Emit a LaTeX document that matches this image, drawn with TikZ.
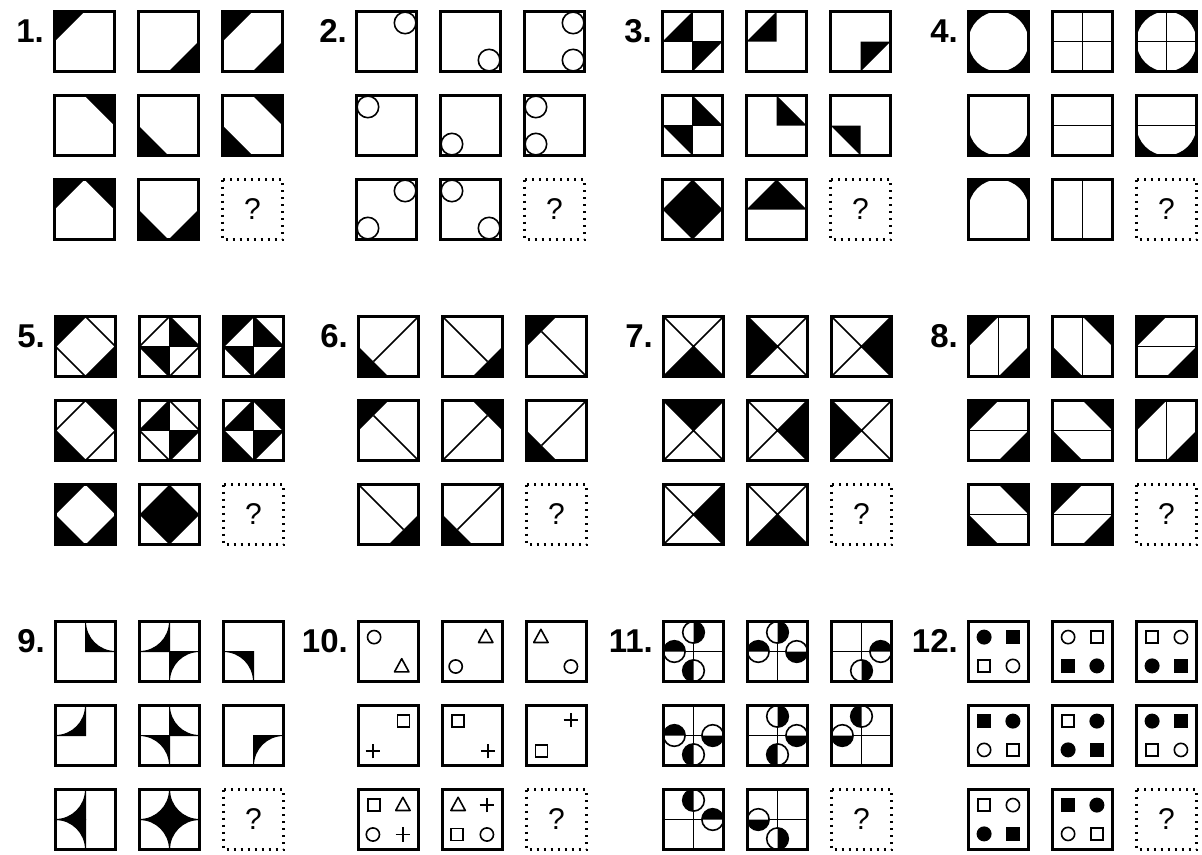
\documentclass[tikz,border=0pt]{standalone}
\usepackage{fontspec}
\setmainfont{Liberation Sans}
\tikzset{
  boxline/.style={line width=2.6pt},
  inln/.style={line width=1.6pt},
  dotbox/.style={line width=2.2pt, dash pattern=on 2pt off 5pt},
  lab/.style={font=\fontsize{33}{33}\selectfont\bfseries, anchor=base east, inner sep=0pt},
  qm/.style={font=\fontsize{30}{30}\selectfont, inner sep=0pt},
}
% box: top-left corner in px
\newcommand\Bx[3]{\begin{scope}[shift={({#1pt+1.5pt},{-#2pt-61.5pt})},x=60pt,y=60pt]#3\draw[boxline] (0,0) rectangle (1,1);\end{scope}}
\newcommand\Qb[3]{\draw[dotbox] ({#1pt+1.5pt},{-#2pt-1.5pt}) rectangle ({#1pt+61.5pt},{-#2pt-61.5pt});
  \node[qm] (#3) at ({#1pt+31.5pt},{-#2pt-31.5pt}) {?};}
% corner / inner triangles
\newcommand\oTL{\fill (0,1)--(0.5,1)--(0,0.5)--cycle;}
\newcommand\oTR{\fill (1,1)--(0.5,1)--(1,0.5)--cycle;}
\newcommand\oBL{\fill (0,0)--(0.5,0)--(0,0.5)--cycle;}
\newcommand\oBR{\fill (1,0)--(0.5,0)--(1,0.5)--cycle;}
\newcommand\iTL{\fill (0.5,0.5)--(0,0.5)--(0.5,1)--cycle;}
\newcommand\iTR{\fill (0.5,0.5)--(0.5,1)--(1,0.5)--cycle;}
\newcommand\iBL{\fill (0.5,0.5)--(0,0.5)--(0.5,0)--cycle;}
\newcommand\iBR{\fill (0.5,0.5)--(1,0.5)--(0.5,0)--cycle;}
\newcommand\iAll{\fill (0.5,1)--(1,0.5)--(0.5,0)--(0,0.5)--cycle;}
\newcommand\iTop{\fill (0,0.5)--(0.5,1)--(1,0.5)--cycle;}
% lines
\newcommand\Lv{\draw[inln] (0.5,0)--(0.5,1);}
\newcommand\Lh{\draw[inln] (0,0.5)--(1,0.5);}
\newcommand\Ldm{\draw[inln] (0.5,1)--(1,0.5)--(0.5,0)--(0,0.5)--cycle;}
\newcommand\Lx{\draw[inln] (0,0)--(1,1) (0,1)--(1,0);}
% puzzle 2
\newcommand\Ci[2]{\draw[inln,fill=white] (#1,#2) circle (0.18);}
% puzzle 4: black corners outside an inscribed circle
\newcommand\kTL{\fill (0,0.5) arc[start angle=180,end angle=90,radius=0.5]--(0,1)--cycle;}
\newcommand\kTR{\fill (1,0.5) arc[start angle=0,end angle=90,radius=0.5]--(1,1)--cycle;}
\newcommand\kBL{\fill (0,0.5) arc[start angle=180,end angle=270,radius=0.5]--(0,0)--cycle;}
\newcommand\kBR{\fill (1,0.5) arc[start angle=0,end angle=-90,radius=0.5]--(1,0)--cycle;}
\newcommand\Cfull{\kTL\kTR\kBL\kBR}
\newcommand\Cbot{\kBL\kBR}
\newcommand\Ctop{\kTL\kTR}
% puzzle 6
\newcommand\sixA{\oBL\draw[inln] (1,1)--(0.25,0.25);}
\newcommand\sixB{\oBR\draw[inln] (0,1)--(0.75,0.25);}
\newcommand\sixC{\oTL\draw[inln] (1,0)--(0.25,0.75);}
\newcommand\sixD{\oTR\draw[inln] (0,0)--(0.75,0.75);}
% puzzle 7
\newcommand\qB{\fill (0,0)--(1,0)--(0.5,0.5)--cycle;}
\newcommand\qT{\fill (0,1)--(1,1)--(0.5,0.5)--cycle;}
\newcommand\qL{\fill (0,0)--(0,1)--(0.5,0.5)--cycle;}
\newcommand\qR{\fill (1,0)--(1,1)--(0.5,0.5)--cycle;}
% puzzle 9
\newcommand\sTR{\fill[draw=black,line width=1pt] (0.5,0.5)--(0.5,1) arc[start angle=180,end angle=270,radius=0.5]--cycle;}
\newcommand\sTL{\fill[draw=black,line width=1pt] (0.5,0.5)--(0,0.5) arc[start angle=270,end angle=360,radius=0.5]--cycle;}
\newcommand\sBL{\fill[draw=black,line width=1pt] (0.5,0.5)--(0.5,0) arc[start angle=0,end angle=90,radius=0.5]--cycle;}
\newcommand\sBR{\fill[draw=black,line width=1pt] (0.5,0.5)--(1,0.5) arc[start angle=90,end angle=180,radius=0.5]--cycle;}
% small symbols
\newcommand\oC[2]{\draw[inln] (#1,#2) circle (0.11);}
\newcommand\fC[2]{\fill (#1,#2) circle (0.125);}
\newcommand\oS[2]{\draw[inln,shift={(#1,#2)}] (-0.1,-0.1) rectangle (0.1,0.1);}
\newcommand\fS[2]{\fill[shift={(#1,#2)}] (-0.115,-0.115) rectangle (0.115,0.115);}
\newcommand\Tr[2]{\draw[inln,line join=round,shift={(#1,#2)}] (-0.12,-0.09)--(0.12,-0.09)--(0,0.13)--cycle;}
\newcommand\Pl[2]{\draw[inln,shift={(#1,#2)}] (-0.12,0)--(0.12,0) (0,-0.12)--(0,0.12);}
% puzzle 11
\newcommand\Hc[3]{\fill[white] (#1,#2) circle (0.18); \fill (#1,#2) ++(#3:0.18) arc[start angle=#3,end angle=#3+180,radius=0.18]--cycle; \draw[inln] (#1,#2) circle (0.18);}
\begin{document}
\begin{tikzpicture}
\fill[white] (0,0) rectangle (1202pt,-854pt);
\useasboundingbox (0,0) rectangle (1202pt,-854pt);
% labels
\node[lab] (L1) at (44pt,-42pt) {1.};
\node[lab] (L2) at (347pt,-42pt) {2.};
\node[lab] (L3) at (652pt,-42pt) {3.};
\node[lab] (L4) at (958pt,-42pt) {4.};
\node[lab] (L5) at (45pt,-347pt) {5.};
\node[lab] (L6) at (348pt,-347pt) {6.};
\node[lab] (L7) at (653pt,-347pt) {7.};
\node[lab] (L8) at (958pt,-347pt) {8.};
\node[lab] (L9) at (45pt,-652pt) {9.};
\node[lab] (L10) at (348pt,-652pt) {10.};
\node[lab] (L11) at (653pt,-652pt) {11.};
\node[lab] (L12) at (958pt,-652pt) {12.};
% ---- puzzle 1
\Bx{53}{10}{\oTL}
\Bx{137}{10}{\oBR}
\Bx{221}{10}{\oTL\oBR}
\Bx{53}{94}{\oTR}
\Bx{137}{94}{\oBL}
\Bx{221}{94}{\oTR\oBL}
\Bx{53}{178}{\oTL\oTR}
\Bx{137}{178}{\oBL\oBR}
\Qb{221}{178}{q1}
% ---- puzzle 2
\Bx{355}{10}{\Ci{0.81}{0.81}}
\Bx{439}{10}{\Ci{0.81}{0.19}}
\Bx{523}{10}{\Ci{0.81}{0.81}\Ci{0.81}{0.19}}
\Bx{355}{94}{\Ci{0.19}{0.81}}
\Bx{439}{94}{\Ci{0.19}{0.19}}
\Bx{523}{94}{\Ci{0.19}{0.81}\Ci{0.19}{0.19}}
\Bx{355}{178}{\Ci{0.81}{0.81}\Ci{0.19}{0.19}}
\Bx{439}{178}{\Ci{0.19}{0.81}\Ci{0.81}{0.19}}
\Qb{523}{178}{q2}
% ---- puzzle 3
\Bx{661}{10}{\iTL\iBR\Lv\Lh}
\Bx{745}{10}{\iTL}
\Bx{829}{10}{\iBR}
\Bx{661}{94}{\iTR\iBL\Lv\Lh}
\Bx{745}{94}{\iTR}
\Bx{829}{94}{\iBL}
\Bx{661}{178}{\iAll}
\Bx{745}{178}{\iTop}
\Qb{829}{178}{q3}
% ---- puzzle 4
\Bx{967}{10}{\Cfull}
\Bx{1051}{10}{\Lv\Lh}
\Bx{1135}{10}{\Cfull\Lv\Lh}
\Bx{967}{94}{\Cbot}
\Bx{1051}{94}{\Lh}
\Bx{1135}{94}{\Cbot\Lh}
\Bx{967}{178}{\Ctop}
\Bx{1051}{178}{\Lv}
\Qb{1135}{178}{q4}
% ---- puzzle 5
\Bx{54}{315}{\oTL\oBR\Ldm}
\Bx{138}{315}{\iTR\iBL\Ldm\Lv\Lh}
\Bx{222}{315}{\oTL\oBR\iTR\iBL\Ldm\Lv\Lh}
\Bx{54}{399}{\oTR\oBL\Ldm}
\Bx{138}{399}{\iTL\iBR\Ldm\Lv\Lh}
\Bx{222}{399}{\oTR\oBL\iTL\iBR\Ldm\Lv\Lh}
\Bx{54}{483}{\oTL\oTR\oBL\oBR}
\Bx{138}{483}{\iAll}
\Qb{222}{483}{q5}
% ---- puzzle 6
\Bx{357}{315}{\sixA}
\Bx{441}{315}{\sixB}
\Bx{525}{315}{\sixC}
\Bx{357}{399}{\sixC}
\Bx{441}{399}{\sixD}
\Bx{525}{399}{\sixA}
\Bx{357}{483}{\sixB}
\Bx{441}{483}{\sixA}
\Qb{525}{483}{q6}
% ---- puzzle 7
\Bx{662}{315}{\qB\Lx}
\Bx{746}{315}{\qL\Lx}
\Bx{830}{315}{\qR\Lx}
\Bx{662}{399}{\qT\Lx}
\Bx{746}{399}{\qR\Lx}
\Bx{830}{399}{\qL\Lx}
\Bx{662}{483}{\qR\Lx}
\Bx{746}{483}{\qB\Lx}
\Qb{830}{483}{q7}
% ---- puzzle 8
\Bx{967}{315}{\oTL\oBR\Lv}
\Bx{1051}{315}{\oTR\oBL\Lv}
\Bx{1135}{315}{\oTL\oBR\Lh}
\Bx{967}{399}{\oTL\oBR\Lh}
\Bx{1051}{399}{\oTR\oBL\Lh}
\Bx{1135}{399}{\oTL\oBR\Lv}
\Bx{967}{483}{\oTR\oBL\Lh}
\Bx{1051}{483}{\oTL\oBR\Lh}
\Qb{1135}{483}{q8}
% ---- puzzle 9
\Bx{54}{620}{\sTR}
\Bx{138}{620}{\sTL\sBR}
\Bx{222}{620}{\sBL}
\Bx{54}{704}{\sTL}
\Bx{138}{704}{\sTR\sBL}
\Bx{222}{704}{\sBR}
\Bx{54}{788}{\sTL\sBL}
\Bx{138}{788}{\sTL\sTR\sBL\sBR}
\Qb{222}{788}{q9}
% ---- puzzle 10
\Bx{357}{620}{\oC{0.26}{0.74}\Tr{0.72}{0.25}}
\Bx{441}{620}{\Tr{0.72}{0.74}\oC{0.22}{0.25}}
\Bx{525}{620}{\Tr{0.24}{0.74}\oC{0.74}{0.25}}
\Bx{357}{704}{\oS{0.75}{0.74}\Pl{0.24}{0.24}}
\Bx{441}{704}{\oS{0.26}{0.74}\Pl{0.76}{0.24}}
\Bx{525}{704}{\Pl{0.74}{0.76}\oS{0.25}{0.24}}
\Bx{357}{788}{\oS{0.26}{0.74}\Tr{0.74}{0.74}\oC{0.24}{0.25}\Pl{0.74}{0.25}}
\Bx{441}{788}{\Tr{0.26}{0.74}\Pl{0.74}{0.74}\oS{0.24}{0.25}\oC{0.74}{0.25}}
\Qb{525}{788}{q10}
% ---- puzzle 11
\Bx{662}{620}{\Lv\Lh\Hc{0.5}{0.82}{-90}\Hc{0.18}{0.5}{0}\Hc{0.5}{0.18}{90}}
\Bx{746}{620}{\Lv\Lh\Hc{0.5}{0.82}{-90}\Hc{0.18}{0.5}{0}\Hc{0.82}{0.5}{180}}
\Bx{830}{620}{\Lv\Lh\Hc{0.82}{0.5}{0}\Hc{0.5}{0.18}{-90}}
\Bx{662}{704}{\Lv\Lh\Hc{0.18}{0.5}{0}\Hc{0.82}{0.5}{180}\Hc{0.5}{0.18}{90}}
\Bx{746}{704}{\Lv\Lh\Hc{0.5}{0.82}{-90}\Hc{0.82}{0.5}{180}\Hc{0.5}{0.18}{90}}
\Bx{830}{704}{\Lv\Lh\Hc{0.5}{0.82}{90}\Hc{0.18}{0.5}{180}}
\Bx{662}{788}{\Lv\Lh\Hc{0.5}{0.82}{90}\Hc{0.82}{0.5}{0}}
\Bx{746}{788}{\Lv\Lh\Hc{0.18}{0.5}{180}\Hc{0.5}{0.18}{-90}}
\Qb{830}{788}{q11}
% ---- puzzle 12
\Bx{967}{620}{\fC{0.26}{0.74}\fS{0.74}{0.74}\oS{0.26}{0.26}\oC{0.74}{0.26}}
\Bx{1051}{620}{\oC{0.26}{0.74}\oS{0.74}{0.74}\fS{0.26}{0.26}\fC{0.74}{0.26}}
\Bx{1135}{620}{\oS{0.26}{0.74}\oC{0.74}{0.74}\fC{0.26}{0.26}\fS{0.74}{0.26}}
\Bx{967}{704}{\fS{0.26}{0.74}\fC{0.74}{0.74}\oC{0.26}{0.26}\oS{0.74}{0.26}}
\Bx{1051}{704}{\oS{0.26}{0.74}\fC{0.74}{0.74}\fC{0.26}{0.26}\fS{0.74}{0.26}}
\Bx{1135}{704}{\fC{0.26}{0.74}\fS{0.74}{0.74}\oS{0.26}{0.26}\oC{0.74}{0.26}}
\Bx{967}{788}{\oS{0.26}{0.74}\oC{0.74}{0.74}\fC{0.26}{0.26}\fS{0.74}{0.26}}
\Bx{1051}{788}{\fS{0.26}{0.74}\fC{0.74}{0.74}\oC{0.26}{0.26}\oS{0.74}{0.26}}
\Qb{1135}{788}{q12}
\end{tikzpicture}
\end{document}
